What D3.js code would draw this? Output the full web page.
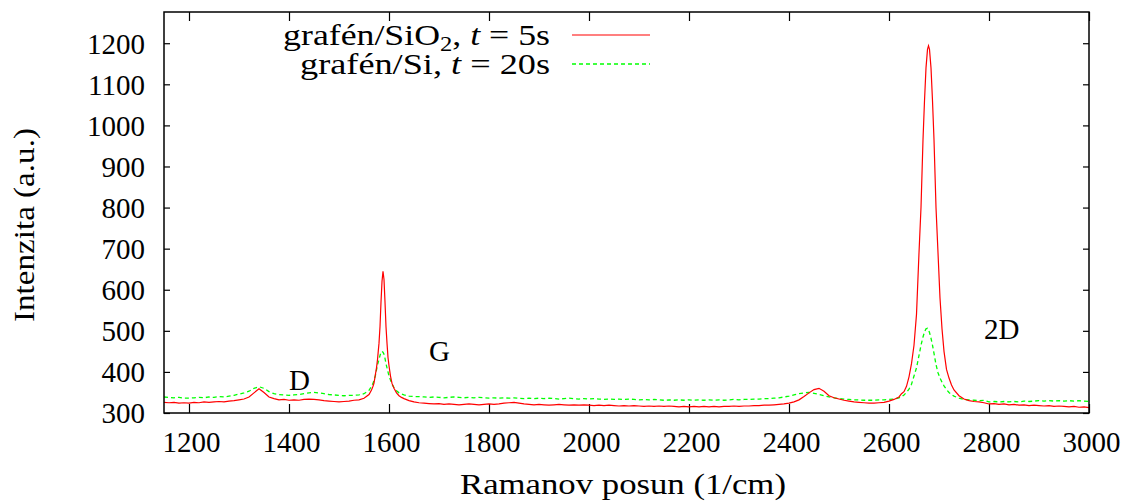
<!DOCTYPE html>
<html>
<head>
<meta charset="utf-8">
<script src="https://cdn.jsdelivr.net/npm/d3@7"></script>
<style>
  body { margin: 0; background: #fff; }
  text { font-family: "Liberation Serif", "DejaVu Serif", serif; fill: #000; }
</style>
</head>
<body>
<div id="chart"></div>
<script>
// Raman shift (1/cm), sample positions shared by both spectra
var shift = [
  1150,1160,1170,1180,1190,1200,1210,1220,1230,1240,1250,1260,1270,1280,1290,1300,1310,1320,1330,1340,
  1350,1360,1370,1380,1390,1400,1410,1420,1430,1440,1450,1460,1470,1480,1490,1500,1510,1520,1530,1540,
  1550,1560,
  1565,1568,1570,1573,1575,1577,1580,1582,1584,1586,1588,1590,1592,1594,1596,1598,1600,1603,1606,1610,
  1615,1620,1625,1630,1640,1650,
  1660,1670,1680,1690,1700,1710,1720,1730,1740,1750,1760,1770,1780,1790,1800,1810,1820,1830,1840,1850,
  1860,1870,1880,1890,1900,1910,1920,1930,1940,1950,1960,1970,1980,1990,2000,2010,2020,2030,2040,2050,
  2060,2070,2080,2090,2100,2110,2120,2130,2140,2150,2160,2170,2180,2190,2200,2210,2220,2230,2240,2250,
  2260,2270,2280,2290,2300,2310,2320,2330,2340,2350,2360,2370,2380,2390,2400,2410,2420,2430,2440,2450,
  2460,2470,2480,2490,2500,2510,2520,2530,2540,2550,2560,2570,2580,2590,2600,2610,2620,
  2625,2630,2635,2640,2645,2650,2655,2660,2664,2668,2671,2674,2677,2679,2681,2684,2687,2690,2694,2698,
  2702,2706,2710,2715,2720,2725,2730,2740,2750,
  2760,2770,2780,2790,2800,2810,2820,2830,2840,2850,2860,2870,2880,2890,2900,2910,2920,2930,2940,2950,
  2960,2970,2980,2990,3000
]

// grafén/SiO2, t = 5s
var sio2 = [
  326,325,326,324,325,324,326,325,327,326,327,328,327,329,330,332,334,339,349,359,
  350,339,335,332,333,331,332,331,333,334,333,332,330,329,328,327,328,329,331,332,
  336,345,
  356,365,373,395,410,430,470,510,570,620,645,625,570,510,470,435,415,390,372,360,
  349,342,338,335,330,327,
  325,324,323,322,323,321,322,321,320,321,322,321,320,321,322,321,322,324,325,326,
  324,322,321,320,321,320,319,320,321,320,319,320,319,320,319,318,319,318,319,318,
  317,318,317,318,317,316,317,316,317,316,317,316,315,316,315,316,315,316,315,316,
  315,316,316,317,316,317,317,318,318,319,319,320,321,322,324,327,332,340,349,357,
  360,353,342,337,334,331,329,327,326,325,324,324,325,326,329,333,339,
  347,352,365,388,420,465,540,690,800,965,1060,1140,1185,1194,1185,1140,1060,965,800,690,
  580,505,450,406,385,368,356,342,334,
  330,328,327,325,322,323,321,322,320,321,319,320,318,319,318,317,318,316,317,316,
  315,316,314,315,313
]

// grafén/Si, t = 20s
var si = [
  339,338,337,338,336,336,337,338,337,339,338,340,339,341,343,346,349,353,360,364,
  360,352,347,345,344,343,344,345,347,349,350,349,347,345,344,343,342,343,343,344,
  347,355,
  365,372,380,392,405,417,430,440,447,450,448,443,433,420,410,400,390,380,370,362,
  354,349,346,344,341,340,
  340,339,338,339,338,337,338,339,338,337,338,337,338,337,336,337,336,337,336,337,
  336,335,336,335,336,335,336,335,334,335,336,335,334,335,334,335,334,333,334,333,
  334,333,334,333,332,333,332,333,332,331,332,331,332,331,332,331,332,331,332,331,
  332,331,332,333,332,333,333,334,334,335,335,336,337,339,341,344,347,349,350,348,
  345,342,339,337,335,334,333,332,332,331,331,331,332,332,333,334,337,
  339,344,350,358,370,390,410,440,465,485,497,505,506,502,496,482,465,445,418,398,
  385,375,366,357,350,345,341,336,333,
  332,331,330,331,327,328,327,328,327,328,327,329,328,329,330,329,330,329,330,329,
  330,329,330,329,328
]

var xTicks = [1200, 1400, 1600, 1800, 2000, 2200, 2400, 2600, 2800, 3000]
var yTicks = [300, 400, 500, 600, 700, 800, 900, 1000, 1100, 1200]

// peak names
var peakNames = ["D", "G", "2D"]
var peakX = [1400, 1680, 2790]
var peakY = [357, 427, 479]

var width = 1129, height = 504
var margin = {left: 164, right: 40, top: 12, bottom: 91}

var svg = d3.select("#chart").append("svg")
    .attr("width", width)
    .attr("height", height)

var x = d3.scaleLinear().domain([1150, 3000]).range([margin.left, width - margin.right])
var y = d3.scaleLinear().domain([300, 1276]).range([height - margin.bottom, margin.top])

var fs = 29

svg.append("clipPath").attr("id", "plotclip")
    .append("rect")
    .attr("x", margin.left).attr("y", margin.top)
    .attr("width", width - margin.left - margin.right)
    .attr("height", height - margin.top - margin.bottom)

// ticks on all four sides, pointing inward
var xb = d3.axisBottom(x).tickValues(xTicks).tickSize(-9).tickFormat(d3.format("d"))
var xt = d3.axisTop(x).tickValues(xTicks).tickSize(-9).tickFormat("")
var yl = d3.axisLeft(y).tickValues(yTicks).tickSize(-6).tickFormat(d3.format("d"))
var yr = d3.axisRight(y).tickValues(yTicks).tickSize(-6).tickFormat("")

function styleAxis(g) {
    g.select(".domain").remove()
    g.selectAll(".tick line").attr("stroke", "#000").attr("stroke-width", 1.2)
    g.selectAll(".tick text").style("font-family", "Liberation Serif, serif").attr("font-size", fs).attr("fill", "#000")
}

var gxb = svg.append("g").attr("class", "xaxis").attr("transform", "translate(0," + y(300) + ")").call(xb).call(styleAxis)
svg.append("g").attr("transform", "translate(0," + margin.top + ")").call(xt).call(styleAxis)
var gyl = svg.append("g").attr("class", "yaxis").attr("transform", "translate(" + margin.left + ",0)").call(yl).call(styleAxis)
svg.append("g").attr("transform", "translate(" + (width - margin.right) + ",0)").call(yr).call(styleAxis)

gxb.selectAll(".tick text").attr("y", 39).attr("dy", null).attr("dx", 2)
gyl.selectAll(".tick text").attr("x", -19).attr("dy", "0.34em")

var line = d3.line()
    .x(function(d, i) { return x(shift[i]) })
    .y(function(d) { return y(d) })

var plot = svg.append("g").attr("clip-path", "url(#plotclip)")

plot.append("path")
    .datum(si)
    .attr("d", line)
    .attr("fill", "none")
    .attr("stroke", "#00ff00")
    .attr("stroke-width", 1.3)
    .attr("stroke-dasharray", "4,3")

plot.append("path")
    .datum(sio2)
    .attr("d", line)
    .attr("fill", "none")
    .attr("stroke", "#ff0000")
    .attr("stroke-width", 1.2)

// frame
svg.append("rect")
    .attr("x", margin.left).attr("y", margin.top)
    .attr("width", width - margin.left - margin.right)
    .attr("height", height - margin.top - margin.bottom)
    .attr("fill", "none")
    .attr("stroke", "#000")
    .attr("stroke-width", 1.5)

// peak labels
svg.selectAll(".peak")
    .data(peakNames)
    .enter()
    .append("text")
    .attr("class", "peak")
    .attr("x", function(d, i) { return x(peakX[i]) })
    .attr("y", function(d, i) { return y(peakY[i]) })
    .attr("font-size", fs)
    .text(function(d) { return d })

// stretch a text horizontally round anchor ax (the TeX font is wider than Times)
function stretch(t, target, ax, pre) {
    var w = t.node().getBBox().width
    var k = target / w
    t.attr("transform", (pre || "") + "translate(" + ax + ",0) scale(" + k + ",1) translate(" + (-ax) + ",0)")
}

// legend
var leg1 = svg.append("text").attr("x", 550).attr("y", 45).attr("text-anchor", "end").attr("font-size", fs)
leg1.append("tspan").text("grafén/SiO")
leg1.append("tspan").attr("font-size", 20).attr("dy", 6).text("2")
leg1.append("tspan").attr("dy", -6).text(", ")
leg1.append("tspan").attr("font-style", "italic").text("t")
leg1.append("tspan").text(" =  5s")
stretch(leg1, 267, 550)

var leg2 = svg.append("text").attr("x", 550).attr("y", 74).attr("text-anchor", "end").attr("font-size", fs)
leg2.append("tspan").text("grafén/Si, ")
leg2.append("tspan").attr("font-style", "italic").text("t")
leg2.append("tspan").text(" =  20s")
stretch(leg2, 250, 550)

svg.append("line").attr("x1", 572).attr("x2", 650).attr("y1", 35).attr("y2", 35)
    .attr("stroke", "#ff0000").attr("stroke-width", 1.2)
svg.append("line").attr("x1", 572).attr("x2", 650).attr("y1", 64).attr("y2", 64)
    .attr("stroke", "#00ff00").attr("stroke-width", 1.3).attr("stroke-dasharray", "4,3")

// axis titles
var xtitle = svg.append("text")
    .attr("x", 623).attr("y", 494)
    .attr("text-anchor", "middle")
    .attr("font-size", fs)
    .text("Ramanov posun (1/cm)")
stretch(xtitle, 326, 623)

var ytitle = svg.append("text")
    .attr("x", 0).attr("y", 0)
    .attr("text-anchor", "middle")
    .attr("font-size", fs)
    .text("Intenzita (a.u.)")
stretch(ytitle, 194, 0, "translate(34,225) rotate(-90) ")
</script>
</body>
</html>
